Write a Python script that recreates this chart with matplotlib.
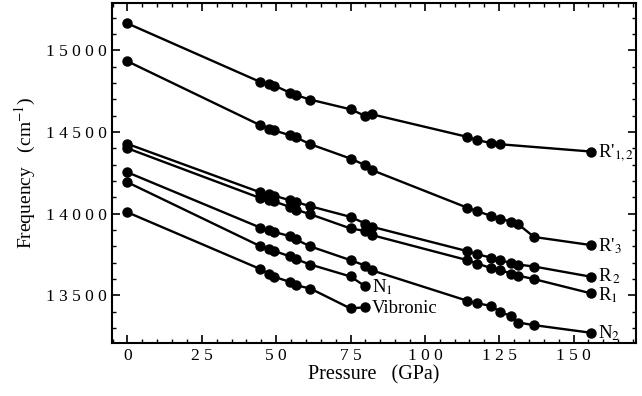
import matplotlib
matplotlib.use("Agg")
import matplotlib.pyplot as plt
from matplotlib.ticker import MultipleLocator, FuncFormatter

plt.rcParams['font.family'] = ['Liberation Serif', 'DejaVu Serif']
plt.rcParams['mathtext.fontset'] = 'stix'

# ---- data (Pressure in GPa, Frequency in cm^-1) ----
p_r12 = [0, 44.7, 47.6, 49.4, 54.6, 56.5, 61.5, 75, 80, 82.3, 114.3, 117.6, 122.4, 125.2, 156]
f_r12 = [15165, 14806, 14792, 14784, 14741, 14727, 14698, 14639, 14598, 14608, 14470, 14450, 14432, 14425, 14380]

p_r3 = [0, 44.7, 47.6, 49.3, 54.6, 56.5, 61.5, 75, 80, 82.3, 114.3, 117.6, 122.4, 125.2, 129.1, 131.4, 136.7, 156]
f_r3 = [14933, 14541, 14521, 14510, 14480, 14468, 14425, 14337, 14296, 14266, 14036, 14015, 13985, 13969, 13950, 13935, 13857, 13807]

p_r2 = [0, 44.7, 47.6, 49.3, 54.6, 56.5, 61.5, 75, 80, 82.3, 114.3, 117.6, 122.4, 125.2, 129.1, 131.4, 136.7, 156]
f_r2 = [14427, 14130, 14120, 14110, 14082, 14072, 14045, 13980, 13939, 13919, 13770, 13751, 13730, 13715, 13697, 13688, 13676, 13613]

p_r1 = [0, 44.7, 47.6, 49.3, 54.6, 56.5, 61.5, 75, 80, 82.3, 114.3, 117.6, 122.4, 125.2, 129.1, 131.4, 136.7, 156]
f_r1 = [14400, 14095, 14085, 14075, 14041, 14025, 13996, 13909, 13894, 13868, 13715, 13694, 13666, 13654, 13633, 13620, 13599, 13511]

p_n2 = [0, 44.7, 47.6, 49.3, 54.6, 56.5, 61.5, 75, 80, 82.3, 114.3, 117.6, 122.4, 125.2, 129.1, 131.4, 136.7, 156]
f_n2 = [14253, 13914, 13898, 13888, 13862, 13843, 13799, 13715, 13681, 13652, 13466, 13450, 13435, 13398, 13372, 13333, 13317, 13270]

p_n1 = [0, 44.7, 47.6, 49.3, 54.6, 56.5, 61.5, 75, 80]
f_n1 = [14192, 13800, 13784, 13772, 13738, 13722, 13688, 13615, 13554]

p_vib = [0, 44.7, 47.6, 49.3, 54.6, 56.5, 61.5, 75, 80]
f_vib = [14008, 13660, 13629, 13613, 13582, 13562, 13541, 13419, 13427]

labels = [r"R'$_{1,2}$", r"R'$_{3}$", r"R$_{\,2}$", r"R$_{1}$", r"N$_{2}$", r"N$_{1}$", "Vibronic"]

series = [(p_r12, f_r12), (p_r3, f_r3), (p_r2, f_r2), (p_r1, f_r1),
          (p_n2, f_n2), (p_n1, f_n1), (p_vib, f_vib)]

# label vertical nudges (points) to keep close labels apart
label_dy = [-4.3, -4.3, -3.0, -5.0, -4.3, -4.3, -4.3]

x_ticks = [0, 25, 50, 75, 100, 125, 150]
y_ticks = [13500, 14000, 14500, 15000]

fig = plt.figure(figsize=(6.42, 3.96), dpi=100)
ax = fig.add_axes([0.1745, 0.134, 0.8162, 0.8584])

for (p, f), lab, dy in zip(series, labels, label_dy):
    ax.plot(p, f, '-o', color='black', lw=1.7, ms=6.5, mfc='black', mec='black')
    ax.annotate(lab, (p[-1], f[-1]), xytext=(4.5, dy), textcoords='offset points',
                fontsize=13.5, va='baseline', ha='left')

ax.set_xlim(-5.2, 171)
ax.set_ylim(13208, 15290)
ax.set_xticks(x_ticks)
ax.set_yticks(y_ticks)
ax.xaxis.set_minor_locator(MultipleLocator(5))
ax.yaxis.set_minor_locator(MultipleLocator(100))
spaced = FuncFormatter(lambda v, pos: " ".join(str(int(round(v)))))
ax.xaxis.set_major_formatter(spaced)
ax.yaxis.set_major_formatter(spaced)
ax.tick_params(which='both', direction='in', top=True, right=True, labelsize=12.5)
ax.tick_params(which='major', length=6, width=1.2)
ax.tick_params(which='minor', length=3, width=1.0)
for s in ax.spines.values():
    s.set_linewidth(1.5)

ax.set_xlabel("Pressure   (GPa)", fontsize=14.5, labelpad=1)
ax.set_ylabel(r"Frequency   (cm$^{-1}$)", fontsize=14, labelpad=6)

fig.savefig("out.png", dpi=100)
